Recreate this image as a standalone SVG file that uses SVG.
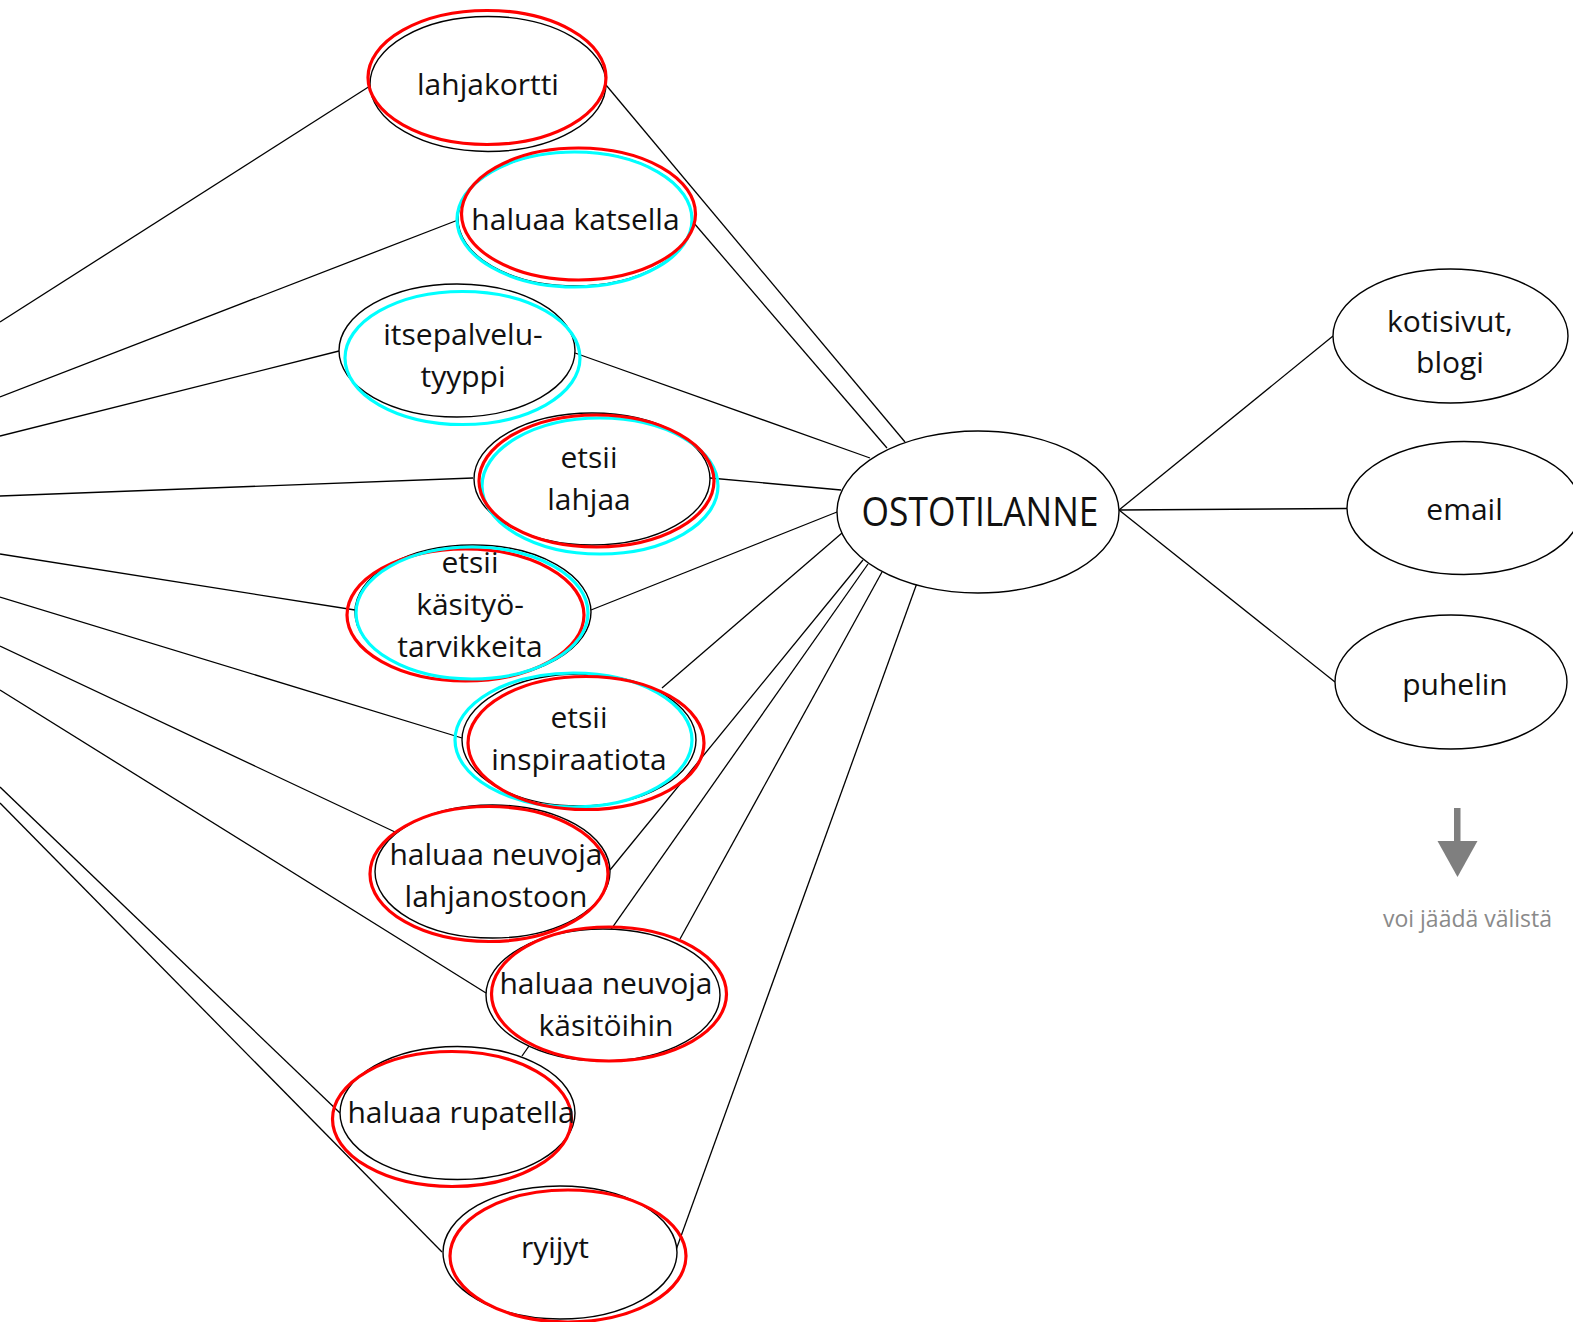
<svg xmlns="http://www.w3.org/2000/svg" width="1573" height="1322" viewBox="0 0 1573 1322">
<style>
.n{fill:#fff;stroke:#000;stroke-width:1.4}
.r{fill:none;stroke:#ff0000;stroke-width:3.2}
.c{fill:none;stroke:#00ffff;stroke-width:3.2}
.t{font-family:"Open Sans","Noto Sans",sans-serif;font-size:30px;fill:#111;text-anchor:middle}
.conn line{stroke:#000;stroke-width:1.3}
</style>
<rect width="1573" height="1322" fill="#fff"/>
<g id="connectors" class="conn">
<line x1="0" y1="322" x2="370" y2="86"/>
<line x1="0" y1="397" x2="458" y2="220"/>
<line x1="0" y1="436" x2="339" y2="351"/>
<line x1="0" y1="496" x2="473" y2="478"/>
<line x1="0" y1="554" x2="355" y2="610"/>
<line x1="0" y1="597" x2="462" y2="738"/>
<line x1="0" y1="646" x2="395" y2="832"/>
<line x1="0" y1="690" x2="486" y2="993"/>
<line x1="0" y1="787" x2="340" y2="1113"/>
<line x1="0" y1="803" x2="442" y2="1252"/>
<line x1="606" y1="85" x2="905" y2="442"/>
<line x1="693" y1="222" x2="887" y2="448"/>
<line x1="575" y1="353" x2="870" y2="458"/>
<line x1="710" y1="478" x2="841" y2="490"/>
<line x1="591" y1="610" x2="837" y2="512"/>
<line x1="662" y1="688" x2="842" y2="533"/>
<line x1="610" y1="870" x2="863" y2="560"/>
<line x1="522" y1="1056" x2="868" y2="564"/>
<line x1="680" y1="939" x2="882" y2="572"/>
<line x1="676" y1="1250" x2="917" y2="583"/>
<line x1="1119" y1="510" x2="1333" y2="336"/>
<line x1="1119" y1="510" x2="1347" y2="508.5"/>
<line x1="1119" y1="510" x2="1335" y2="682"/>
</g>
<g id="node-lahjakortti">
<ellipse class="n" cx="488" cy="84" rx="118" ry="67.5"/>
<ellipse class="r" cx="487" cy="77.5" rx="119" ry="67"/>
<text class="t" x="488" y="95">lahjakortti</text>
</g>
<g id="node-haluaa-katsella">
<ellipse class="n" cx="575" cy="219" rx="117" ry="67"/>
<ellipse class="c" cx="574.5" cy="219.5" rx="117.5" ry="67.5"/>
<ellipse class="r" cx="578.5" cy="214" rx="117" ry="66"/>
<text class="t" x="575.5" y="230">haluaa katsella</text>
</g>
<g id="node-itsepalvelu">
<ellipse class="n" cx="457" cy="350.5" rx="118" ry="66.5"/>
<ellipse class="c" cx="462.5" cy="358" rx="117.5" ry="66.5"/>
<text class="t" x="463" y="345">itsepalvelu-</text>
<text class="t" x="463" y="386.5">tyyppi</text>
</g>
<g id="node-etsii-lahjaa">
<ellipse class="n" cx="592" cy="479" rx="118" ry="66"/>
<ellipse class="c" cx="600" cy="486" rx="118" ry="68"/>
<ellipse class="r" cx="596.5" cy="481" rx="117.5" ry="66"/>
<text class="t" x="589" y="468">etsii</text>
<text class="t" x="589" y="510">lahjaa</text>
</g>
<g id="node-etsii-kasityotarvikkeita">
<ellipse class="n" cx="473" cy="612" rx="118" ry="67"/>
<ellipse class="r" cx="465.5" cy="615" rx="118.5" ry="66"/>
<ellipse class="c" cx="472" cy="613" rx="116" ry="66"/>
<text class="t" x="470" y="573">etsii</text>
<text class="t" x="470" y="615">käsityö-</text>
<text class="t" x="470" y="656.5">tarvikkeita</text>
</g>
<g id="node-etsii-inspiraatiota">
<ellipse class="n" cx="579" cy="740" rx="117" ry="66"/>
<ellipse class="c" cx="573.5" cy="740" rx="118.5" ry="67"/>
<ellipse class="r" cx="586" cy="743" rx="118" ry="66.5"/>
<text class="t" x="579" y="728">etsii</text>
<text class="t" x="579" y="770">inspiraatiota</text>
</g>
<g id="node-haluaa-neuvoja-lahjanostoon">
<ellipse class="n" cx="492.5" cy="871.5" rx="117.5" ry="66.5"/>
<ellipse class="r" cx="489" cy="874" rx="119" ry="67.5"/>
<text class="t" x="496" y="865">haluaa neuvoja</text>
<text class="t" x="496" y="906.5">lahjanostoon</text>
</g>
<g id="node-haluaa-neuvoja-kasitoihin">
<ellipse class="n" cx="603" cy="995" rx="117" ry="66"/>
<ellipse class="r" cx="609" cy="994" rx="117.5" ry="67"/>
<text class="t" x="606" y="994">haluaa neuvoja</text>
<text class="t" x="606" y="1036">käsitöihin</text>
</g>
<g id="node-haluaa-rupatella">
<ellipse class="n" cx="457.5" cy="1113" rx="117.5" ry="66.5"/>
<ellipse class="r" cx="452" cy="1119" rx="119.5" ry="67.5"/>
<text class="t" x="461" y="1123">haluaa rupatella</text>
</g>
<g id="node-ryijyt">
<ellipse class="n" cx="560" cy="1252.5" rx="117" ry="66.5"/>
<ellipse class="r" cx="568" cy="1256" rx="118" ry="66"/>
<text class="t" x="555" y="1258">ryijyt</text>
</g>
<g id="node-ostotilanne">
<ellipse class="n" cx="978" cy="512" rx="141" ry="81"/>
<text class="t" x="980" y="526" style="font-size:40px" textLength="237" lengthAdjust="spacingAndGlyphs">OSTOTILANNE</text>
</g>
<g id="node-kotisivut-blogi">
<ellipse class="n" cx="1450.5" cy="336" rx="117.5" ry="67"/>
<text class="t" x="1450" y="331.5">kotisivut,</text>
<text class="t" x="1450" y="373">blogi</text>
</g>
<g id="node-email">
<ellipse class="n" cx="1464" cy="508" rx="117" ry="66.5"/>
<text class="t" x="1464.5" y="520">email</text>
</g>
<g id="node-puhelin">
<ellipse class="n" cx="1451" cy="682" rx="116" ry="67"/>
<text class="t" x="1455" y="695">puhelin</text>
</g>
<g id="note">
<rect x="1454" y="808" width="6.5" height="34" fill="#7f7f7f"/>
<polygon points="1437.5,841 1477.5,841 1457.5,877" fill="#7f7f7f"/>
<text x="1467.5" y="927" style="font-family:'Open Sans','Noto Sans',sans-serif;font-size:23px;fill:#8a8a8a;text-anchor:middle">voi jäädä välistä</text>
</g>
</svg>
